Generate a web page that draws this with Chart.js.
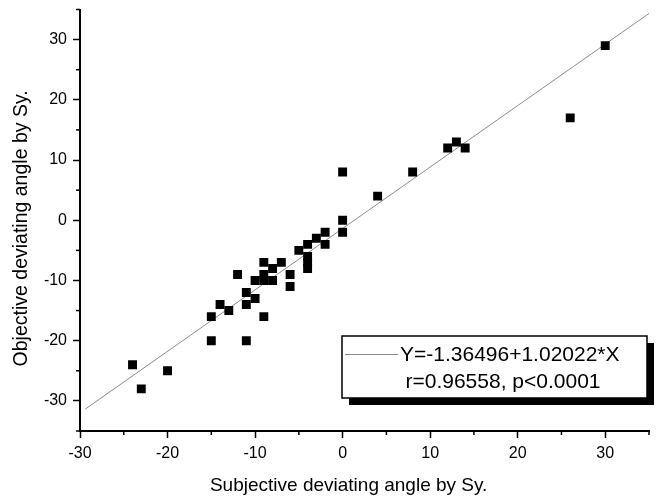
<!DOCTYPE html>
<html>
<head>
<meta charset="utf-8">
<script src="https://cdn.jsdelivr.net/npm/chart.js@4/dist/chart.umd.min.js"></script>
<style>
  html, body { margin: 0; padding: 0; background: #fff; }
  #wrap { width: 660px; height: 497px; position: relative; }
</style>
</head>
<body>
<div id="wrap"><canvas id="scatter"></canvas></div>
<script>
// subjective (x) vs objective (y) deviating angle
var subjective = [30, 26, 13, 12, 14, 8, 4, 0, 0, 0,
                  -2, -2, -3, -4, -4, -4, -4, -5, -6, -6,
                  -7, -8, -8, -9, -9, -9, -9, -10, -10, -11,
                  -11, -11, -12, -13, -14, -15, -15, -20, -23, -24];
var objective  = [29, 17, 13, 12, 12, 8, 4, 8, 0, -2,
                  -2, -4, -3, -4, -6, -7, -8, -5, -9, -11,
                  -7, -8, -10, -7, -9, -10, -16, -10, -13, -12,
                  -14, -20, -9, -15, -14, -16, -20, -25, -28, -24];

var intercept = -1.36496;
var slope = 1.02022;
var fitRange = [-29.4, 35];
var legendLines = ["Y=-1.36496+1.02022*X", "r=0.96558, p<0.0001"];

var points = subjective.map(function(x, i) { return {x: x, y: objective[i]}; });
var fitPoints = fitRange.map(function(x) { return {x: x, y: intercept + slope * x}; });

Chart.defaults.font.family = "'Liberation Sans', Arial, sans-serif";
Chart.defaults.color = '#000';

var minorTicks = {
  id: 'minorTicks',
  afterDraw: function(chart) {
    var ctx = chart.ctx, area = chart.chartArea;
    ctx.save();
    ctx.strokeStyle = '#000';
    ctx.lineWidth = 1.5;
    chart.scales.x.ticks.forEach(function(t) {
      if (t.value % 10 === 0) return;
      var px = chart.scales.x.getPixelForValue(t.value);
      ctx.beginPath(); ctx.moveTo(px, area.bottom); ctx.lineTo(px, area.bottom + 4); ctx.stroke();
    });
    chart.scales.y.ticks.forEach(function(t) {
      if (t.value % 10 === 0) return;
      var py = chart.scales.y.getPixelForValue(t.value);
      ctx.beginPath(); ctx.moveTo(area.left, py); ctx.lineTo(area.left - 4, py); ctx.stroke();
    });
    ctx.restore();
  }
};

var fitLegend = {
  id: 'fitLegend',
  afterDraw: function(chart) {
    var ctx = chart.ctx;
    var left = 342, top = 336, w = 305, h = 62, sh = 7;
    ctx.save();
    ctx.fillStyle = '#000';
    ctx.fillRect(left + sh, top + sh, w, h);
    ctx.fillStyle = '#fff';
    ctx.fillRect(left, top, w, h);
    ctx.strokeStyle = '#000';
    ctx.lineWidth = 1.5;
    ctx.strokeRect(left, top, w, h);
    ctx.strokeStyle = '#8c8c8c';
    ctx.lineWidth = 1;
    ctx.beginPath(); ctx.moveTo(left + 3, top + 18.5); ctx.lineTo(left + 56, top + 18.5); ctx.stroke();
    ctx.fillStyle = '#000';
    ctx.font = "21px 'Liberation Sans', Arial, sans-serif";
    ctx.textBaseline = 'middle';
    ctx.textAlign = 'left';
    ctx.fillText(legendLines[0], left + 58, top + 19);
    ctx.textAlign = 'center';
    ctx.fillText(legendLines[1], left + 161, top + 46);
    ctx.restore();
  }
};

function axisOpts(min, max, title, fit, titlePad, titleSize) {
  return {
    type: 'linear',
    min: min,
    max: max,
    afterFit: fit,
    border: { display: true, color: '#000', width: 2 },
    grid: {
      drawOnChartArea: false,
      drawTicks: true,
      tickLength: 7,
      tickWidth: 1.5,
      tickColor: function(c) { return c.tick && c.tick.value % 10 === 0 ? '#000' : 'rgba(0,0,0,0)'; }
    },
    ticks: {
      stepSize: 5,
      autoSkip: false,
      maxRotation: 0,
      padding: 6,
      font: { size: 16 },
      callback: function(v) { return v % 10 === 0 ? v : ''; }
    },
    title: { display: true, text: title, font: { size: titleSize }, padding: titlePad }
  };
}

new Chart(document.getElementById('scatter').getContext('2d'), {
  type: 'scatter',
  data: {
    datasets: [{
      label: 'data',
      data: points,
      pointStyle: 'rect',
      pointRadius: 6.3,
      pointBorderWidth: 0,
      backgroundColor: '#000',
      borderColor: '#000'
    }, {
      type: 'line',
      label: 'fit',
      data: fitPoints,
      borderColor: '#8c8c8c',
      borderWidth: 1,
      pointRadius: 0,
      fill: false
    }]
  },
  options: {
    responsive: true,
    maintainAspectRatio: false,
    animation: false,
    layout: { padding: { top: 9.5, right: 11, left: 0, bottom: 0 } },
    plugins: {
      legend: { display: false },
      tooltip: { enabled: false }
    },
    scales: {
      x: axisOpts(-30, 35, 'Subjective deviating angle by Sy.\u00a0\u00a0\u00a0\u00a0\u00a0\u00a0',
                  function(s) { s.height = 66; s.paddingLeft = 0; s.paddingRight = 0; },
                  { top: 4, bottom: 0 }, 19),
      y: axisOpts(-35, 35, 'Objective deviating angle by Sy.\u00a0\u00a0\u00a0',
                  function(s) { s.width = 80; s.paddingTop = 0; s.paddingBottom = 0; },
                  { top: 10, bottom: 0 }, 19.5)
    }
  },
  plugins: [minorTicks, fitLegend]
});
</script>
</body>
</html>
